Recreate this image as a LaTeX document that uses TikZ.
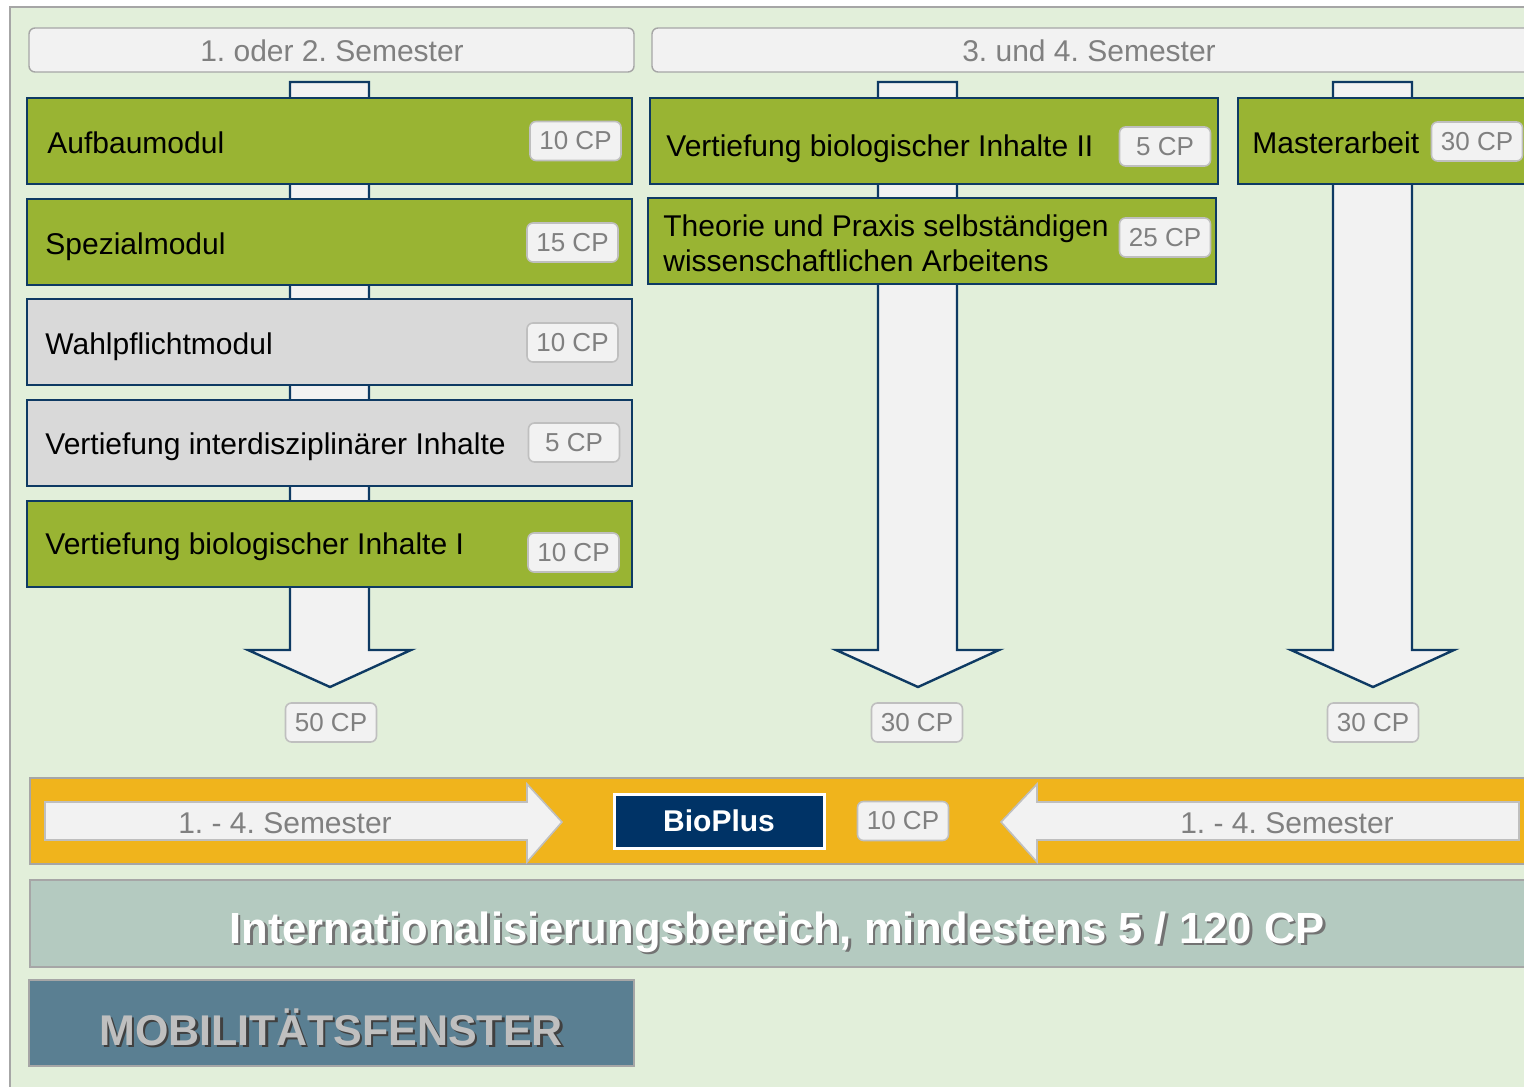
\documentclass[tikz,border=0pt]{standalone}
\usepackage{fontspec}
\setmainfont{Liberation Sans}
\frenchspacing

\definecolor{hgrund}{HTML}{E2EFDA}
\definecolor{rahmen}{HTML}{A6A6A6}
\definecolor{gruen}{HTML}{99B433}
\definecolor{modgrau}{HTML}{D9D9D9}
\definecolor{hell}{HTML}{F2F2F2}
\definecolor{dblau}{HTML}{0E3A63}
\definecolor{navy}{HTML}{003366}
\definecolor{gold}{HTML}{F0B41C}
\definecolor{intlgrau}{HTML}{B4CAC0}
\definecolor{mobil}{HTML}{5A7F92}
\definecolor{schrift}{HTML}{808080}
\definecolor{cprand}{HTML}{BFBFBF}

\begin{document}
\begin{tikzpicture}[x=0.5pt,y=-0.5pt,
  modul/.style={draw=dblau,line width=1pt},
  mtext/.style={anchor=base west,inner sep=0pt,font=\fontsize{15}{17.5}\selectfont},
  cp/.style={draw=cprand,line width=0.8pt,fill=hell,rounded corners=3pt,text=schrift,
    minimum width=45.5pt,minimum height=19.5pt,inner sep=0pt,font=\fontsize{13}{15}\selectfont},
  kopf/.style={draw=rahmen,line width=0.7pt,fill=hell,rounded corners=3pt},
  pfeil/.style={draw=dblau,line width=1.2pt,fill=hell},
  sempfeil/.style={draw=cprand,line width=0.8pt,fill=hell},
  semtext/.style={text=schrift,inner sep=0pt,font=\fontsize{15}{18}\selectfont}]
\useasboundingbox (0,0) rectangle (1524,1086);
\clip (0,0) rectangle (1524,1086);

% Hintergrund
\fill[white] (0,0) rectangle (1524,1086);
\draw[rahmen,line width=0.8pt,fill=hgrund] (10,7) rectangle (1540,1100);

% Semesterkoepfe
\draw[kopf] (29,28) rectangle (634,72);
\node[semtext,anchor=base] (kopf1) at (332,62) {1. oder 2. Semester};
\draw[kopf] (652,28) rectangle (1545,72);
\node[semtext,anchor=base] (kopf2) at (1089,62) {3. und 4. Semester};

% Pfeile
\foreach \c in {330,918,1373}
  \draw[pfeil] (\c-40,82) -- (\c+39,82) -- (\c+39,650) -- (\c+81,650) -- (\c,687)
    -- (\c-82,650) -- (\c-40,650) -- cycle;

% Module links
\draw[modul,fill=gruen] (27,98) rectangle (632,184);
\node[mtext] (aufbau) at (47,154) {Aufbaumodul};
\node[cp] (aufbau-cp) at (575.5,141) {10 CP};

\draw[modul,fill=gruen] (27,199) rectangle (632,285);
\node[mtext] (spezial) at (45,254) {Spezialmodul};
\node[cp] (spezial-cp) at (572.5,242.5) {15 CP};

\draw[modul,fill=modgrau] (27,299) rectangle (632,385);
\node[mtext] (wahl) at (45,354) {Wahlpflichtmodul};
\node[cp] (wahl-cp) at (572.5,342.5) {10 CP};

\draw[modul,fill=modgrau] (27,400) rectangle (632,486);
\node[mtext] (interdis) at (45,454) {Vertiefung interdisziplinärer Inhalte};
\node[cp] (interdis-cp) at (574,442.5) {5 CP};

\draw[modul,fill=gruen] (27,501) rectangle (632,587);
\node[mtext] (bio1) at (45,554) {Vertiefung biologischer Inhalte I};
\node[cp] (bio1-cp) at (573.5,552.5) {10 CP};

% Module rechts
\draw[modul,fill=gruen] (650,98) rectangle (1218,184);
\node[mtext] (bio2) at (666,156) {Vertiefung biologischer Inhalte II};
\node[cp] (bio2-cp) at (1165,146.5) {5 CP};

\draw[modul,fill=gruen] (648,198) rectangle (1216,284);
\node[mtext,anchor=west,align=left] (theorie) at (663,243) {Theorie und Praxis selbständigen\\wissenschaftlichen Arbeitens};
\node[cp] (theorie-cp) at (1165,237.5) {25 CP};

\draw[modul,fill=gruen] (1238,98) rectangle (1545,184);
\node[mtext] (master) at (1252,154) {Masterarbeit};
\node[cp] (master-cp) at (1477,141.5) {30 CP};

% Summen
\node[cp] (summe1) at (331,722.5) {50 CP};
\node[cp] (summe2) at (917,722.5) {30 CP};
\node[cp] (summe3) at (1373,722.5) {30 CP};

% BioPlus
\draw[rahmen,line width=1pt,fill=gold] (30,778) rectangle (1545,864);
\draw[sempfeil] (45,802) -- (527,802) -- (527,784) -- (562,822) -- (527,862) -- (527,840) -- (45,840) -- cycle;
\node[semtext] (sem-links) at (285,823) {1. - 4. Semester};
\draw[sempfeil] (1519,802) -- (1037,802) -- (1037,784) -- (1001,822) -- (1037,862) -- (1037,840) -- (1519,840) -- cycle;
\node[semtext] (sem-rechts) at (1287,823) {1. - 4. Semester};
\node[fill=navy,draw=white,line width=1.5pt,minimum width=105pt,minimum height=27pt,
  text=white,font=\fontsize{15}{18}\selectfont\bfseries] (bioplus) at (719,821) {BioPlus};
\node[cp] (bioplus-cp) at (903,821) {10 CP};

% Internationalisierung
\draw[rahmen,line width=1pt,fill=intlgrau] (30,880) rectangle (1545,967);
\node[text=black!55,font=\fontsize{21.8}{25}\selectfont\bfseries] (intl-s) at (779.5,934.5)
  {Internationalisierungsbereich, mindestens 5 / 120 CP};
\node[text=white,font=\fontsize{21.8}{25}\selectfont\bfseries] (intl) at (777,932)
  {Internationalisierungsbereich, mindestens 5 / 120 CP};

% Mobilitaet
\draw[rahmen,line width=1pt,fill=mobil] (29,980) rectangle (634,1066);
\node[text=black!75,font=\fontsize{21.5}{25}\selectfont\bfseries] (mobil-s) at (333.5,1029.5) {MOBILITÄTSFENSTER};
\node[text=cprand,font=\fontsize{21.5}{25}\selectfont\bfseries] (mobil) at (331,1027) {MOBILITÄTSFENSTER};
\end{tikzpicture}
\end{document}
